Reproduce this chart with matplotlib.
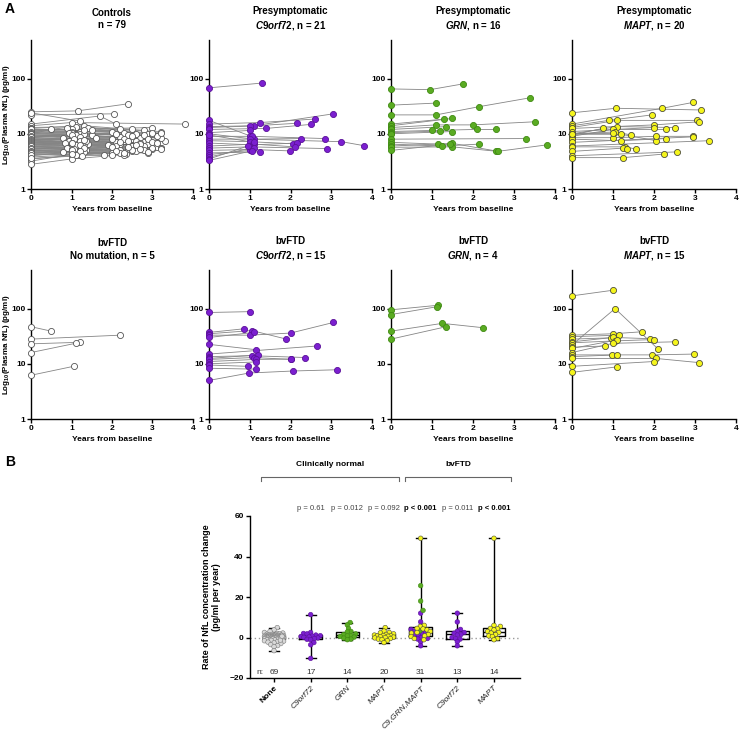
#!/usr/bin/env python3
"""Plasma NfL: longitudinal panels (A) and rate of change (B)"""
import numpy as np
import matplotlib.pyplot as plt
from matplotlib.ticker import NullLocator

plt.rcParams['font.family'] = ['Liberation Sans', 'DejaVu Sans']
plt.rcParams['mathtext.fontset'] = 'custom'
plt.rcParams['mathtext.rm'] = 'Liberation Sans:bold'
plt.rcParams['mathtext.it'] = 'Liberation Sans:italic:bold'
plt.rcParams['mathtext.bf'] = 'Liberation Sans:bold'

# each subject: (baseline value, t1, v1, t2, v2, ...) -- baseline at year 0
controls = [
    (25, 1.15, 26, 2.4, 35), (22, 2.05, 23), (24, 1.2, 17), (15, 1.7, 21, 2.1, 15),
    (14, 1.0, 16, 3.8, 15), (13, 1.1, 13.5, 2.2, 12), (12.5, 1.3, 14, 2.8, 11.5),
    (12, 1.0, 12, 3.0, 13), (11.5, 1.2, 11, 2.5, 12), (11, 0.9, 13, 3.2, 11),
    (11, 1.4, 12.5, 2.9, 10), (10.5, 1.1, 10, 2.6, 9.5), (10, 1.0, 11, 2.3, 10.5),
    (10, 0.5, 12, 2.0, 11), (9.5, 1.2, 9.8, 3.1, 9), (9.5, 1.0, 9, 2.7, 8.5),
    (9, 1.3, 10, 2.4, 9.5), (9, 0.8, 8.5, 3.3, 7.5), (9, 1.1, 9.2, 2.2, 8.8),
    (8.5, 1.05, 8, 2.9, 8.2), (8.5, 1.5, 9.5, 2.5, 8), (8.5, 1.0, 10, 3.0, 9.8),
    (8, 1.2, 8.5, 2.6, 7.5), (8, 0.9, 7.2, 2.1, 7), (8, 1.3, 7.8, 3.2, 8.5),
    (7.5, 1.1, 8, 2.4, 7.2), (7.5, 1.0, 6.8, 2.8, 7), (7.5, 1.6, 8.5, 3.1, 9),
    (7.2, 1.2, 7, 2.2, 6.5), (7, 0.95, 7.5, 2.0, 8), (7, 1.4, 6.5, 2.7, 6.8),
    (7, 1.1, 7.2, 3.0, 6.2), (6.8, 1.0, 6.5, 2.5, 6), (6.5, 1.25, 7, 2.3, 7.5),
    (6.5, 1.05, 6, 2.9, 6.5), (6.5, 0.85, 6.8, 1.9, 6.2), (6.3, 1.15, 6.3, 3.2, 5.5),
    (6, 1.0, 5.8, 2.6, 5.6), (6, 1.3, 6.5, 2.1, 6), (6, 1.1, 5.5, 3.1, 5.8),
    (5.8, 0.9, 5.5, 2.4, 5.2), (5.5, 1.2, 5.8, 2.8, 6), (5.5, 1.0, 5.2, 2.2, 5),
    (5.5, 1.35, 5, 3.0, 5.2), (5.2, 1.1, 5, 2.5, 4.8), (5, 1.0, 4.8, 2.0, 4.5),
    (5, 1.25, 5.2, 3.2, 5.5), (5, 0.8, 4.6, 2.6, 4.8), (4.8, 1.15, 4.5, 2.35, 4.3),
    (4.5, 1.05, 4.8, 1.8, 4.2), (4.5, 1.3, 4.6, 2.9, 4.5), (4.2, 1.0, 4.5),
    (4, 1.1, 4.8, 2.5, 5), (3.8, 1.2, 4.2, 2.2, 4.5), (3.5, 1.0, 4, 3.0, 5.5),
    (3.2, 1.15, 4.4, 2.8, 5), (2.8, 1.0, 3.5, 2.3, 4.2), (12, 1.5, 11.5, 3.0, 10.5),
    (11, 1.0, 10.5, 2.8, 9.5), (10.5, 1.3, 11.5, 2.6, 10), (10, 1.1, 9.5, 3.2, 10.5),
    (9.8, 0.95, 10.5, 2.1, 10), (9.2, 1.2, 8.8, 2.5, 9), (8.8, 1.0, 9.5, 2.9, 8),
    (8.2, 1.35, 7.5, 2.3, 8), (7.8, 1.05, 8.2, 3.0, 7.2), (7.4, 1.2, 7.4, 2.7, 6.6),
    (7.1, 1.0, 6.9, 2.4, 7.5), (6.9, 1.3, 7.6, 2.2, 7), (6.6, 1.1, 6.2, 3.1, 6.8),
    (6.2, 1.0, 6.8, 2.6, 6.3), (5.9, 1.2, 6.2, 2.0, 5.7), (5.6, 1.05, 5.4, 2.7, 5.3),
    (5.3, 1.3, 5.5, 2.4, 5.8), (4.9, 1.0, 5.1, 3.2, 5.4), (4.6, 1.2, 4.9, 2.1, 4.8),
    (4.4, 1.1, 4.2, 2.9, 4.7), (4.1, 1.0, 4.3, 2.3, 4.4), (3.6, 1.25, 4.0, 2.0, 4.1),
]
pre_c9 = [
    (68, 1.3, 83), (17.5, 1.0, 9.2), (15, 1.25, 16, 2.6, 18.5), (13.5, 1.1, 14, 3.05, 23),
    (13, 1.0, 13.8, 2.15, 15.5), (12, 1.4, 12.5, 2.5, 14.8), (10.5, 1.0, 11.5),
    (10, 1.1, 8, 2.25, 8.2), (9, 1.05, 9, 2.85, 8.2), (8, 1.0, 8, 3.25, 7.2, 3.8, 6.1),
    (7.5, 1.0, 7.2, 2.05, 6.6), (6.8, 1.05, 6.3, 2.15, 6.8), (6, 1.1, 6.5, 2.1, 5.8),
    (5.5, 1.0, 5.8, 2.9, 5.4), (5, 1.05, 5.2, 1.98, 4.9), (4.5, 1.25, 4.7),
    (4.2, 1.0, 5.0), (3.8, 1.1, 5.6), (3.5, 0.95, 6.0), (3.3, 1.05, 4.9), (9.5, 1.1, 7.0),
]
pre_grn = [
    (65, 0.95, 63, 1.75, 80), (33, 1.1, 36), (22, 1.1, 22, 2.15, 31, 3.4, 45),
    (15, 1.3, 18.5), (14, 1.5, 19), (13, 1.1, 14.5, 2.0, 14.5, 3.5, 16.5),
    (12, 1.35, 13.5), (11, 1.0, 11.5, 2.1, 12, 2.55, 12), (10.5, 1.2, 11.2),
    (10, 1.5, 11), (8, 3.3, 8.2), (7, 1.15, 6.5), (6.5, 1.25, 6.0, 2.15, 6.5),
    (6, 1.5, 6.7, 2.55, 4.9), (5.7, 1.5, 5.8, 2.6, 4.8, 3.8, 6.3), (5, 1.45, 6.5),
]
pre_mapt = [
    (24, 1.07, 29, 3.15, 27), (15, 2.2, 29, 2.95, 37), (14, 0.9, 17.5, 1.95, 22),
    (13, 1.1, 17.5, 3.05, 17.5), (12.5, 2.0, 14.5, 3.1, 16.5), (11, 2.0, 13),
    (10, 1.1, 13.5, 2.5, 13), (9.5, 0.75, 12.5), (9, 1.0, 12, 2.3, 12),
    (10, 1.05, 10.8, 1.45, 9.5), (9.8, 1.2, 9.8, 2.05, 7.5),
    (8.5, 1.0, 8.5, 2.05, 9, 2.95, 9), (8, 1.2, 7.5, 2.3, 8.2), (7, 2.95, 8.8),
    (6, 3.35, 7.5), (5.8, 1.3, 5.8, 1.55, 5.3), (4.8, 1.25, 5.5, 1.35, 5.3),
    (4, 2.55, 4.7), (3.7, 1.25, 3.7, 2.25, 4.3), (10, 1.0, 10.2),
]
bv_none = [(47, 0.5, 39), (28, 2.2, 33), (23, 1.2, 24.5), (16, 1.1, 23.5), (6.2, 1.05, 9)]
bv_c9 = [
    (85, 1.0, 88), (37, 0.85, 43), (35, 1.05, 40, 1.9, 28), (33, 1.0, 33, 2.0, 36, 3.05, 56),
    (30, 1.1, 37), (22.5, 1.15, 18), (15, 2.65, 21), (13.5, 1.05, 14, 2.35, 13),
    (12.5, 1.2, 14.5), (12, 1.1, 13, 2.0, 12), (11, 1.15, 12, 2.0, 12.2),
    (10, 1.15, 10.8), (9.5, 0.95, 9), (8.3, 1.15, 8), (5, 0.98, 6.8, 2.05, 7.4, 3.15, 7.8),
]
bv_grn = [(95, 1.15, 115), (78, 1.12, 108), (39, 1.25, 54, 2.25, 45), (28, 1.35, 47)]
bv_mapt = [
    (170, 1.0, 215), (33, 1.0, 35, 1.7, 38), (31, 1.15, 33), (28, 0.95, 29.5),
    (25, 1.0, 30, 1.9, 28.5), (24, 1.05, 26, 2.0, 27.5), (22, 1.05, 100, 2.1, 18.5),
    (20, 0.8, 21), (19, 1.1, 27), (16, 1.0, 23.5, 2.5, 25),
    (14.5, 0.98, 14.5, 1.95, 14.5, 2.98, 15), (13.5, 1.1, 14.5),
    (12.5, 2.05, 12.5, 3.1, 10.5), (9, 2.0, 11), (7, 1.1, 8.8),
]

# panel B: rate of change (pg/ml per year)
rate_none = [4.9, 3.8, 3.0, 2.5, 2.2, 2.0, 1.8, 1.6, 1.5, 1.4, 1.3, 1.2, 1.1, 1.0, 1.0,
             0.9, 0.9, 0.8, 0.8, 0.7, 0.7, 0.6, 0.6, 0.5, 0.5, 0.5, 0.4, 0.4, 0.3, 0.3,
             0.3, 0.2, 0.2, 0.2, 0.1, 0.1, 0.0, 0.0, 0.0, -0.1, -0.1, -0.2, -0.2, -0.3,
             -0.3, -0.4, -0.4, -0.5, -0.5, -0.6, -0.7, -0.8, -0.9, -1.0, -1.1, -1.2,
             -1.4, -1.6, -1.8, -2.0, -2.3, -2.6, -3.0, -3.5, -4.0, -4.5, -1.3, 0.6, -6.5]
rate_pre_c9 = [11.3, 2.5, 2.0, 1.8, 1.2, 0.9, 0.7, 0.5, 0.3, 0.1, -0.2, -0.5, -0.9,
               -1.1, -2.5, -3.6, -10.3]
rate_pre_grn = [7.4, 6.2, 4.5, 3.0, 2.8, 1.8, 1.5, 1.0, 0.8, 0.5, 0.2, -0.3, -0.8, -1.1]
rate_pre_mapt = [4.9, 3.2, 2.5, 2.3, 1.8, 1.5, 1.2, 1.0, 0.9, 0.8, 0.6, 0.4, 0.2, 0.0,
                 -0.2, -0.5, -0.8, -1.0, -1.5, -2.5]
rate_bv_c9 = [12.0, 7.7, 4.0, 3.1, 2.5, 2.1, 1.5, 1.2, 0.0, -0.5, -0.8, -2.1, -4.1]
rate_bv_grn = [25.6, 18.0, 13.4, 3.3]
rate_bv_mapt = [49.0, 6.0, 5.5, 4.5, 4.3, 3.8, 3.0, 2.5, 2.2, 1.5, 0.8, 0.5, -0.5, -1.1]

b_labels = ['None', 'C9orf72', 'GRN', 'MAPT', 'C9,GRN,MAPT', 'C9orf72', 'MAPT']
b_n = [69, 17, 14, 20, 31, 13, 14]
b_p = ['p = 0.61', 'p = 0.012', 'p = 0.092', 'p < 0.001', 'p = 0.011', 'p < 0.001']
b_p_bold = [False, False, False, True, False, True]

PURPLE = '#7b1fd0'
GREEN = '#5aab22'
YELLOW = '#f5f51c'
WHITE = '#ffffff'
EDGE = {PURPLE: '#5a1099', GREEN: '#3f8a12', YELLOW: '#4d4d3a', WHITE: '#555555'}

W, H = 739, 729
fig = plt.figure(figsize=(W / 100, H / 100), dpi=100)


def px_axes(x0, y0, x1, y1):
    # rectangle in pixel coords measured from the top left
    return fig.add_axes([x0 / W, 1 - y1 / H, (x1 - x0) / W, (y1 - y0) / H])


def longitudinal(ax, subjects, color, title, ylabel=False):
    for s in subjects:
        t = [0] + list(s[1::2])
        v = [s[0]] + list(s[2::2])
        ax.plot(t, v, color='#858585', lw=0.6, zorder=2, clip_on=False)
        ax.plot(t, v, ls='none', marker='o', ms=4.4, mfc=color, mec=EDGE[color],
                mew=0.6, zorder=3, clip_on=False)
    ax.set_yscale('log')
    ax.set_ylim(1, 500)
    ax.set_xlim(0, 4)
    ax.set_yticks([1, 10, 100])
    ax.set_yticklabels(['1', '10', '100'])
    ax.yaxis.set_minor_locator(NullLocator())
    ax.set_xticks(range(5))
    for side in ['top', 'right']:
        ax.spines[side].set_visible(False)
    for side in ['left', 'bottom']:
        ax.spines[side].set_linewidth(1.0)
    ax.tick_params(length=3, width=1, labelsize=6, pad=1.0)
    for lab in ax.get_xticklabels() + ax.get_yticklabels():
        lab.set_fontweight('bold')
    ax.set_xlabel('Years from baseline', fontsize=6, fontweight='bold', labelpad=3)
    ax.set_title(title, fontsize=7, fontweight='bold', pad=8.5, linespacing=1.3)
    if ylabel:
        ax.set_ylabel(r'Log$_{\mathrm{10}}$(Plasma NfL) (pg/ml)', fontsize=5.8,
                      fontweight='bold')
        ax.yaxis.set_label_coords(-0.12, 0.5)


top_y = (40, 189)
bot_y = (270, 419)
cols = [(31, 193), (209, 372), (391, 555), (572, 736)]

panels = [
    (cols[0], top_y, controls, WHITE, 'Controls\nn = 79', True),
    (cols[1], top_y, pre_c9, PURPLE, 'Presymptomatic\n$\\mathit{C9orf72}$, n = 21', False),
    (cols[2], top_y, pre_grn, GREEN, 'Presymptomatic\n$\\mathit{GRN}$, n = 16', False),
    (cols[3], top_y, pre_mapt, YELLOW, 'Presymptomatic\n$\\mathit{MAPT}$, n = 20', False),
    (cols[0], bot_y, bv_none, WHITE, 'bvFTD\nNo mutation, n = 5', True),
    (cols[1], bot_y, bv_c9, PURPLE, 'bvFTD\n$\\mathit{C9orf72}$, n = 15', False),
    (cols[2], bot_y, bv_grn, GREEN, 'bvFTD\n$\\mathit{GRN}$, n = 4', False),
    (cols[3], bot_y, bv_mapt, YELLOW, 'bvFTD\n$\\mathit{MAPT}$, n = 15', False),
]
for (x0, x1), (y0, y1), subj, col, title, ylab in panels:
    ax = px_axes(x0, y0, x1, y1)
    longitudinal(ax, subj, col, title, ylab)

fig.text(5 / W, 1 - 9 / H, 'A', fontsize=10, fontweight='bold', va='center')
fig.text(5 / W, 1 - 462 / H, 'B', fontsize=10, fontweight='bold', va='center')

# ---- panel B ----
bx0, bx1, by0, by1 = 250, 520, 516, 678
axb = px_axes(bx0, by0, bx1, by1)
xlim = (-0.655, 6.71)
ylim = (-20, 60)
axb.set_xlim(*xlim)
axb.set_ylim(*ylim)
ppx = (bx1 - bx0) / (xlim[1] - xlim[0])
ppy = (by1 - by0) / (ylim[1] - ylim[0])


def swarm(vals, d=3.6, maxw=10.0):
    # simple beeswarm: offsets (data units) for each value, in input order
    order = np.argsort(vals)
    placed = []
    offs = np.zeros(len(vals))
    cands = [0.0]
    k = 0.4
    while k <= maxw:
        cands += [k, -k]
        k += 0.4
    for i in order:
        y = vals[i] * ppy
        best, bestd = 0.0, -1
        for c in cands:
            mind = min([np.hypot(c - px, y - py) for px, py in placed] + [99])
            if mind >= d:
                best = c
                break
            if mind > bestd:
                best, bestd = c, mind
        placed.append((best, y))
        offs[i] = best / ppx
    return offs


combined = rate_bv_c9 + rate_bv_grn + rate_bv_mapt
combined_cols = ([PURPLE] * len(rate_bv_c9) + [GREEN] * len(rate_bv_grn)
                 + [YELLOW] * len(rate_bv_mapt))
groups = [
    (rate_none, ['#d9d9d9'] * len(rate_none)),
    (rate_pre_c9, [PURPLE] * len(rate_pre_c9)),
    (rate_pre_grn, [GREEN] * len(rate_pre_grn)),
    (rate_pre_mapt, [YELLOW] * len(rate_pre_mapt)),
    (combined, combined_cols),
    (rate_bv_c9, [PURPLE] * len(rate_bv_c9)),
    (rate_bv_mapt, [YELLOW] * len(rate_bv_mapt)),
]

axb.axhline(0, color='#9a9a9a', ls=(0, (1, 2)), lw=1.0, zorder=0)
lp = dict(color='black', lw=1.0)
axb.boxplot([g[0] for g in groups], positions=range(7), widths=0.62, whis=(0, 100),
            showfliers=False, boxprops=lp, whiskerprops=lp, capprops=lp,
            medianprops=lp, capwidths=0.28, manage_ticks=False)
for i, (vals, colors) in enumerate(groups):
    vals = np.array(vals, dtype=float)
    offs = swarm(vals)
    edges = ['#7a7a7a' if c == '#d9d9d9' else EDGE.get(c, c) for c in colors]
    axb.scatter(i + offs, vals, s=11, c=colors, edgecolors=edges, linewidths=0.4,
                zorder=4, clip_on=False)

axb.set_yticks([-20, 0, 20, 40, 60])
axb.set_xticks(range(7))
axb.set_xticklabels(b_labels, rotation=45, ha='right', va='top',
                    rotation_mode='anchor', fontsize=6, color='#222222')
for i, lab in enumerate(axb.get_xticklabels()):
    if i == 0:
        lab.set_fontweight('bold')
        lab.set_color('black')
    else:
        lab.set_fontstyle('italic')
for lab in axb.get_yticklabels():
    lab.set_fontweight('bold')
axb.tick_params(length=3, width=1, labelsize=6, pad=1.5)
for side in ['top', 'right']:
    axb.spines[side].set_visible(False)
for side in ['left', 'bottom']:
    axb.spines[side].set_linewidth(1.0)
axb.set_ylabel('Rate of NfL concentration change\n(pg/ml per year)', fontsize=6.5,
               fontweight='bold', labelpad=6, linespacing=1.2)

# n row
axb.text(-0.38, -17.3, 'n:', fontsize=6, color='#333333', ha='center', va='center')
for i, n in enumerate(b_n):
    axb.text(i, -17.3, str(n), fontsize=6, color='#333333', ha='center', va='center')

# p values
for i, (p, b) in enumerate(zip(b_p, b_p_bold)):
    axb.text(i + 1, 63.7, p, fontsize=5.5, ha='center', va='center',
             fontweight='bold' if b else 'normal', color='black' if b else '#444444',
             clip_on=False)

# brackets
for xa, xb, lab in [(-0.35, 3.41, 'Clinically normal'), (3.57, 6.46, 'bvFTD')]:
    axb.plot([xa, xa, xb, xb], [77.3, 79.5, 79.5, 77.3], color='#666666', lw=0.8,
             clip_on=False)
    axb.text((xa + xb) / 2, 83.6, lab, fontsize=6, fontweight='bold', ha='center',
             va='bottom', clip_on=False)

fig.savefig('out.png', dpi=100)
